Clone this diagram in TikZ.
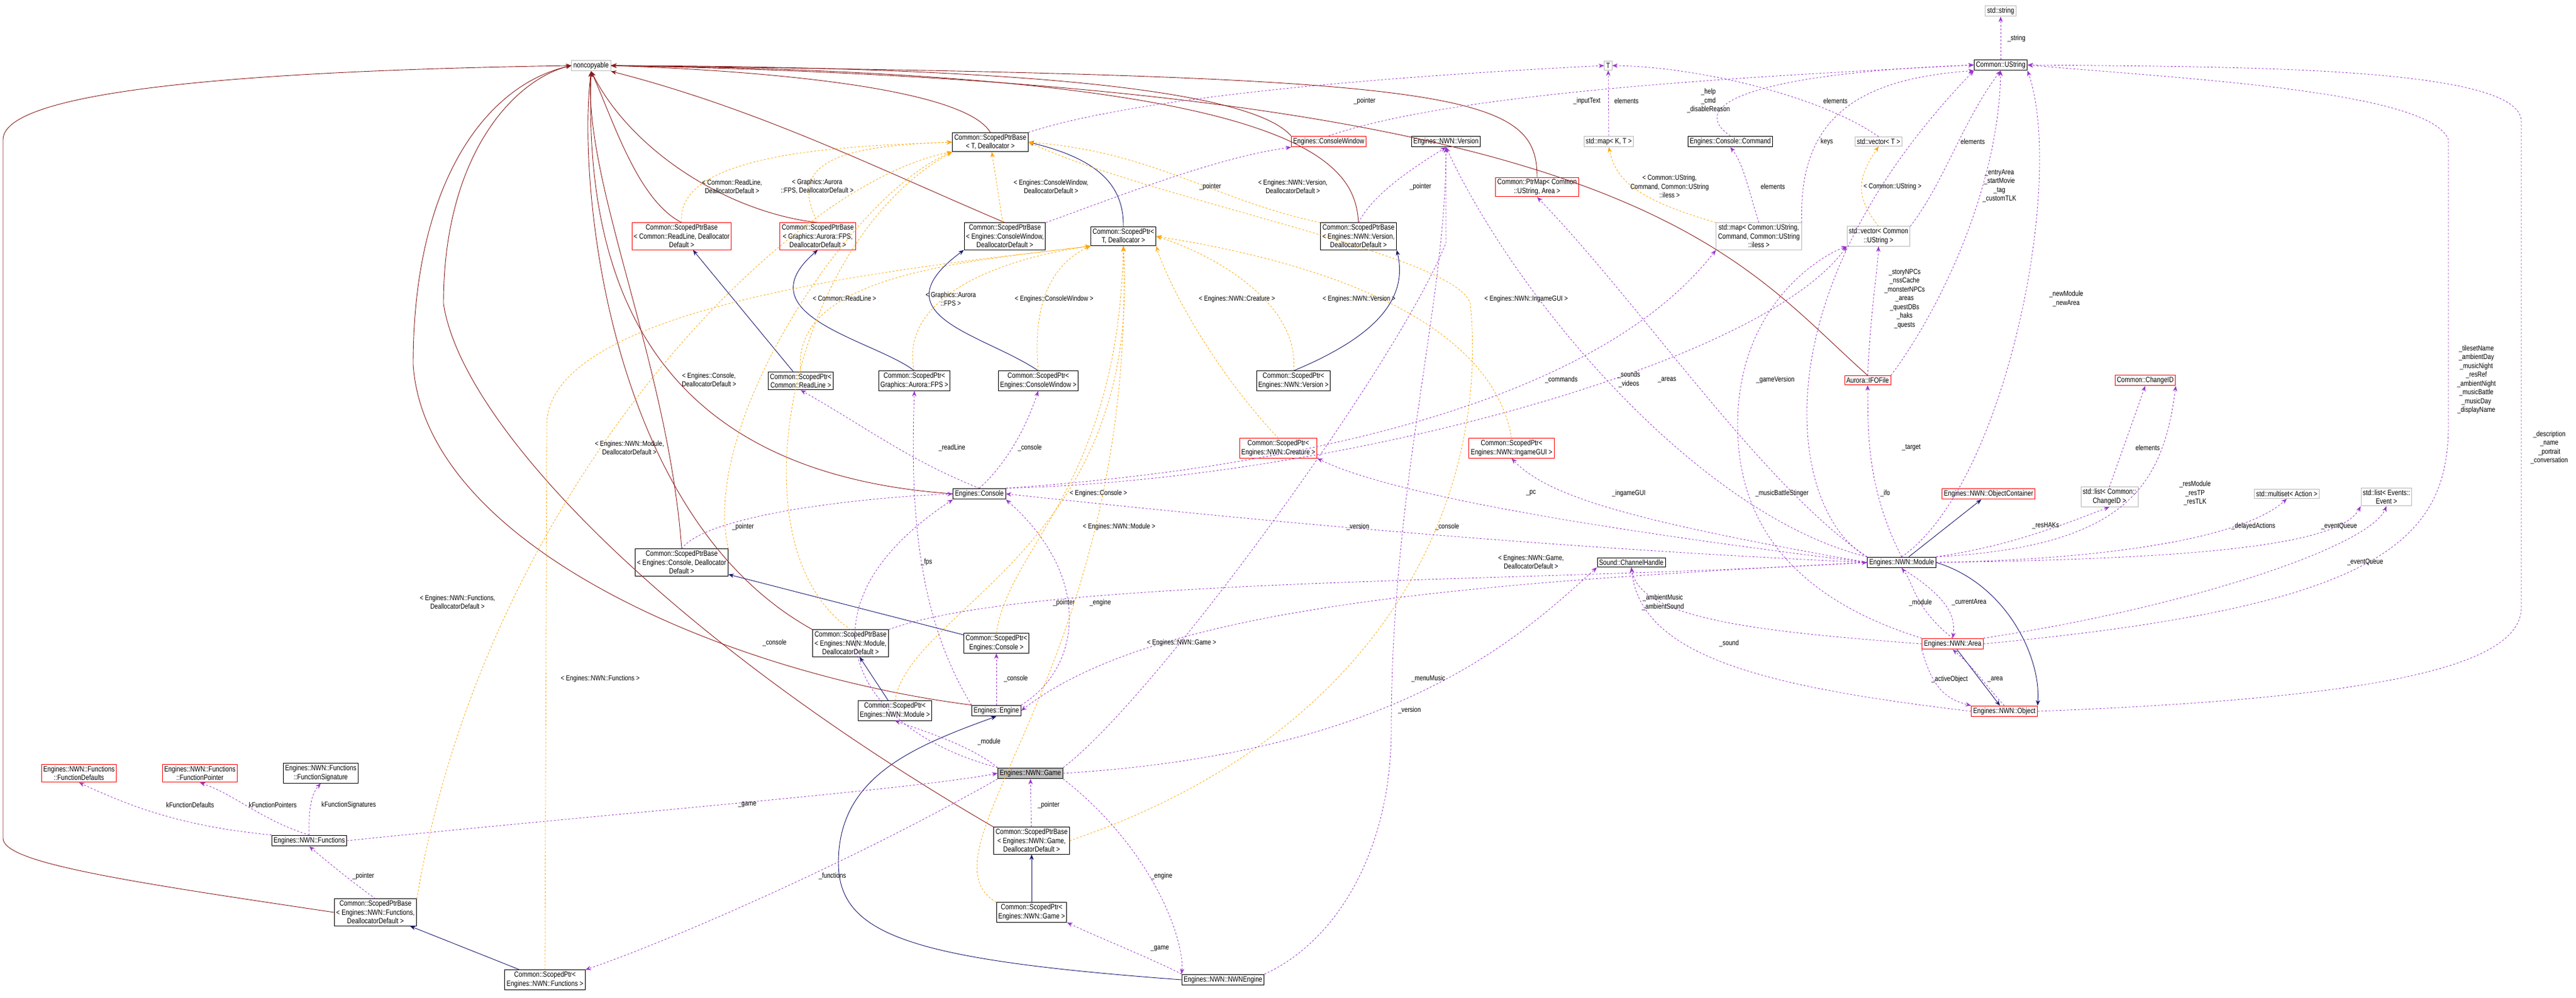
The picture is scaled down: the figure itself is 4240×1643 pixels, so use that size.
\documentclass[tikz,border=0pt]{standalone}
\usepackage{fontspec}
\setmainfont{Liberation Sans}[FakeStretch=0.82]
\usetikzlibrary{arrows.meta}
\definecolor{inhred}{HTML}{8B1A1A}
\definecolor{inhblue}{HTML}{191970}
\definecolor{usep}{HTML}{9A32CD}
\definecolor{tmpl}{HTML}{FFA500}
\tikzset{
 bx/.style={draw=black,line width=1pt,fill=white,align=center,inner sep=3pt,font=\fontsize{12.5}{14.5}\selectfont},
 rbx/.style={bx,draw=red},
 gbx/.style={bx,draw=black!28},
 lbl/.style={align=center,inner sep=1pt,font=\fontsize{12}{14.5}\selectfont},
 tip/.style={-{Stealth[length=9pt,width=7pt]}},
 nce/.style={tip,draw=inhred,line width=0.9pt},
 inh/.style={tip,draw=inhblue,line width=0.9pt},
 tpl/.style={tip,draw=tmpl,dashed,line width=0.8pt},
 use/.style={tip,draw=usep,dashed,line width=0.8pt},
}
\begin{document}
\begin{tikzpicture}[x=1pt,y=-1pt]
\useasboundingbox (0,0) rectangle (4240,1643);
% nodes
\node[gbx] (nc) at (973,108) {noncopyable};
\node[gbx] (T) at (2647,108) {T};
\node[gbx] (sstr) at (3293,18) {std::string};
\node[bx] (ustr) at (3293,107) {Common::UString};
\node[bx] (spbT) at (1630,234) {Common::ScopedPtrBase\\< T, Deallocator >};
\node[rbx] (cw) at (2187,233) {Engines::ConsoleWindow};
\node[bx] (ver) at (2380,233) {Engines::NWN::Version};
\node[gbx] (mapKT) at (2648,233) {std::map< K, T >};
\node[bx] (cmd) at (2848,233) {Engines::Console::Command};
\node[gbx] (vecT) at (3092,233) {std::vector< T >};
\node[rbx] (ptrmap) at (2530,308) {Common::PtrMap< Common\\::UString, Area >};
\node[rbx] (rlB) at (1122,389) {Common::ScopedPtrBase\\< Common::ReadLine, Deallocator\\Default >};
\node[rbx] (fpsB) at (1346,389) {Common::ScopedPtrBase\\< Graphics::Aurora::FPS,\\DeallocatorDefault >};
\node[bx] (cwB) at (1654,389) {Common::ScopedPtrBase\\< Engines::ConsoleWindow,\\DeallocatorDefault >};
\node[bx] (spT) at (1849,389) {Common::ScopedPtr<\\T, Deallocator >};
\node[bx] (verB) at (2236,389) {Common::ScopedPtrBase\\< Engines::NWN::Version,\\DeallocatorDefault >};
\node[gbx] (mapU) at (2895,389) {std::map< Common::UString,\\Command, Common::UString\\::iless >};
\node[gbx] (vecU) at (3092,389) {std::vector< Common\\::UString >};
\node[bx] (rlP) at (1318,627) {Common::ScopedPtr<\\Common::ReadLine >};
\node[bx] (fpsP) at (1505,627) {Common::ScopedPtr<\\Graphics::Aurora::FPS >};
\node[bx] (cwP) at (1709,627) {Common::ScopedPtr<\\Engines::ConsoleWindow >};
\node[bx] (verP) at (2129,627) {Common::ScopedPtr<\\Engines::NWN::Version >};
\node[rbx] (ifo) at (3074,626) {Aurora::IFOFile};
\node[rbx] (chid) at (3531,626) {Common::ChangeID};
\node[rbx] (creP) at (2104,738) {Common::ScopedPtr<\\Engines::NWN::Creature >};
\node[rbx] (guiP) at (2488,738) {Common::ScopedPtr<\\Engines::NWN::IngameGUI >};
\node[bx] (con) at (1612,813) {Engines::Console};
\node[rbx] (objc) at (3273,813) {Engines::NWN::ObjectContainer};
\node[gbx] (lchid) at (3472,818) {std::list< Common::\\ChangeID >};
\node[gbx] (mset) at (3764,813) {std::multiset< Action >};
\node[gbx] (levt) at (3928,818) {std::list< Events::\\Event >};
\node[bx] (conB) at (1122,926) {Common::ScopedPtrBase\\< Engines::Console, Deallocator\\Default >};
\node[bx] (chan) at (2685,926) {Sound::ChannelHandle};
\node[bx] (mod) at (3130,926) {Engines::NWN::Module};
\node[bx] (modB) at (1400,1059) {Common::ScopedPtrBase\\< Engines::NWN::Module,\\DeallocatorDefault >};
\node[bx] (conP) at (1640,1059) {Common::ScopedPtr<\\Engines::Console >};
\node[rbx] (area) at (3214,1060) {Engines::NWN::Area};
\node[bx] (modP) at (1473,1170) {Common::ScopedPtr<\\Engines::NWN::Module >};
\node[bx] (eng) at (1640,1170) {Engines::Engine};
\node[rbx] (obj) at (3299,1171) {Engines::NWN::Object};
\node[bx,fill=black!25] (game) at (1696,1273) {Engines::NWN::Game};
\node[rbx] (fdef) at (130,1273) {Engines::NWN::Functions\\::FunctionDefaults};
\node[rbx] (fptr) at (329,1273) {Engines::NWN::Functions\\::FunctionPointer};
\node[bx] (fsig) at (528,1273) {Engines::NWN::Functions\\::FunctionSignature};
\node[bx] (funcs) at (509,1384) {Engines::NWN::Functions};
\node[bx] (gameB) at (1698,1384) {Common::ScopedPtrBase\\< Engines::NWN::Game,\\DeallocatorDefault >};
\node[bx] (funB) at (618,1502) {Common::ScopedPtrBase\\< Engines::NWN::Functions,\\DeallocatorDefault >};
\node[bx] (gameP) at (1698,1502) {Common::ScopedPtr<\\Engines::NWN::Game >};
\node[bx] (funP) at (897,1613) {Common::ScopedPtr<\\Engines::NWN::Functions >};
\node[bx] (nwne) at (2013,1613) {Engines::NWN::NWNEngine};

% noncopyable inheritance
\begin{scope}[on background layer/.style={}]
\draw[nce] (spbT.north) .. controls (1590,150) and (1300,118) .. (nc.east);
\draw[nce] (rlB.north) .. controls (1050,330) and (1010,200) .. (nc.south);
\draw[nce] (fpsB.north) .. controls (1200,350) and (1040,250) .. (nc.south);
\draw[nce] (cwB.north) .. controls (1450,280) and (1250,180) .. (nc.south east);
\draw[nce] (cw.north west) .. controls (2060,150) and (1700,110) .. (nc.east);
\draw[nce] (verB.north) .. controls (2230,270) and (2160,120) .. (nc.east);
\draw[nce] (ptrmap.north) .. controls (2530,150) and (2400,125) .. (nc.east);
\draw[nce] (ifo.north) .. controls (2850,420) and (2700,140) .. (nc.east);
\draw[nce] (con.west) .. controls (1100,780) and (960,500) .. (nc.south);
\draw[nce] (conB.north) .. controls (1100,600) and (960,300) .. (nc.south);
\draw[nce] (modB.north west) .. controls (1000,850) and (950,300) .. (nc.south);
\draw[nce] (eng.north west) .. controls (1200,1110) and (700,900) .. (680,600) .. controls (680,300) and (800,140) .. (nc.west);
\draw[nce] (gameB.north west) .. controls (1100,1050) and (760,700) .. (730,500) .. controls (730,250) and (850,130) .. (nc.west);
\draw[nce] (funB.west) .. controls (200,1450) and (5,1420) .. (5,1380) -- (5,230) .. controls (5,140) and (500,115) .. (nc.west);
\end{scope}

% blue inheritance
\draw[inh] (rlP) -- (rlB);
\draw[inh] (fpsP.north) .. controls (1440,560) and (1220,520) .. (fpsB.south);
\draw[inh] (cwP.north) .. controls (1620,550) and (1440,520) .. (cwB.south west);
\draw[inh] (spT.north) .. controls (1850,300) and (1800,260) .. (spbT.east);
\draw[inh] (verP.north) .. controls (2250,560) and (2320,500) .. (verB.south east);
\draw[inh] (conP) -- (conB);
\draw[inh] (modP) -- (modB);
\draw[inh] (gameP) -- (gameB);
\draw[inh] (funP) -- (funB);
\draw[inh] (nwne.west) .. controls (1500,1580) and (1380,1540) .. (1380,1420) .. controls (1380,1280) and (1500,1230) .. (eng.south);
\draw[inh] (mod) -- (objc);
\draw[inh] (mod.east) .. controls (3300,960) and (3360,1080) .. (obj.north east);
\draw[inh] (area) -- (obj);

% template instances
\draw[tpl] (rlB.north) .. controls (1110,250) and (1400,240) .. (spbT.west);
\draw[tpl] (fpsB.north) .. controls (1290,260) and (1400,240) .. (spbT.west);
\draw[tpl] (cwB) -- (spbT);
\draw[tpl] (verB.north west) .. controls (2000,330) and (1900,250) .. (spbT.east);
\draw[tpl] (conB.north east) .. controls (1150,700) and (1400,320) .. (spbT.south west);
\draw[tpl] (modB.north) .. controls (1200,900) and (1300,400) .. (spbT.south west);
\draw[tpl] (funB.north east) .. controls (800,800) and (1300,300) .. (spbT.south west);
\draw[tpl] (gameB.east) .. controls (2300,1200) and (2450,800) .. (2420,500) .. controls (2400,420) and (1900,330) .. (spbT.east);
\draw[tpl] (rlP.north) .. controls (1300,450) and (1600,430) .. (spT.south west);
\draw[tpl] (fpsP.north) .. controls (1480,500) and (1620,430) .. (spT.south west);
\draw[tpl] (cwP.north) .. controls (1700,520) and (1720,440) .. (spT.south west);
\draw[tpl] (creP.north) .. controls (1990,600) and (1920,460) .. (spT.south east);
\draw[tpl] (verP.north) .. controls (2140,500) and (2000,420) .. (spT.east);
\draw[tpl] (guiP.north) .. controls (2450,500) and (2100,420) .. (spT.east);
\draw[tpl] (conP.north) .. controls (1660,900) and (1840,800) .. (spT.south);
\draw[tpl] (modP.north) .. controls (1500,1000) and (1880,900) .. (spT.south);
\draw[tpl] (gameP.north west) .. controls (1500,1400) and (1870,1100) .. (spT.south);
\draw[tpl] (funP.north) -- (900,700) .. controls (900,500) and (1500,440) .. (spT.south west);
\draw[tpl] (mapU.north west) .. controls (2700,330) and (2660,300) .. (mapKT.south);
\draw[tpl] (vecU.north) .. controls (3050,320) and (3060,290) .. (vecT.south);

% usage
\draw[use] (spbT.north east) .. controls (1900,150) and (2400,120) .. (T.west);
\draw[use] (cw.north) .. controls (2400,150) and (2900,125) .. (ustr.west);
\draw[use] (cwB.north east) .. controls (1850,320) and (2000,260) .. (cw.south west);
\draw[use] (verB.north) .. controls (2260,320) and (2320,280) .. (ver.south);
\draw[use] (mapKT) -- (T);
\draw[use] (vecT.north) .. controls (3000,160) and (2800,110) .. (T.east);
\draw[use] (cmd.north) .. controls (2770,170) and (2900,120) .. (ustr.west);
\draw[use] (mapU.north) .. controls (2880,320) and (2870,270) .. (cmd.south);
\draw[use] (mapU.north east) .. controls (2960,200) and (3050,130) .. (ustr.south west);
\draw[use] (vecU.north east) .. controls (3200,300) and (3230,200) .. (ustr.south);
\draw[use] (ustr) -- (sstr);
\draw[use] (ifo.north) .. controls (3080,500) and (3090,450) .. (vecU.south);
\draw[use] (ifo.north east) .. controls (3200,500) and (3290,300) .. (ustr.south);
\draw[use] (mod.north) .. controls (3300,800) and (3400,300) .. (ustr.south east);
\draw[use] (area.east) .. controls (3900,1000) and (4030,900) .. (4030,700) -- (4030,230) .. controls (4000,150) and (3600,130) .. (ustr.east);
\draw[use] (obj.east) .. controls (3900,1150) and (4150,1100) .. (4150,1000) -- (4150,200) .. controls (4150,110) and (3700,110) .. (ustr.east);
\draw[use] (mod.north) .. controls (3070,800) and (3075,700) .. (ifo.south);
\draw[use] (mod.north west) .. controls (2900,800) and (2700,500) .. (ptrmap.south);
\draw[use] (mod.north west) .. controls (2800,850) and (2500,500) .. (ver.south);
\draw[use] (mod.west) .. controls (2700,860) and (2550,820) .. (guiP.south);
\draw[use] (mod.west) .. controls (2700,880) and (2300,820) .. (creP.south east);
\draw[use] (mod.west) .. controls (2500,900) and (2000,850) .. (con.east);
\draw[use] (mod.north east) .. controls (3300,900) and (3380,870) .. (lchid.south);
\draw[use] (mod.north east) .. controls (3500,900) and (3560,800) .. (chid.south east);
\draw[use] (lchid.north) -- (chid.south);
\draw[use] (mod.east) .. controls (3500,920) and (3700,880) .. (mset.south);
\draw[use] (mod.east) .. controls (3600,920) and (3850,900) .. (levt.south west);
\draw[use] (area.north east) .. controls (3600,1000) and (3900,900) .. (levt.south);
\draw[use] (area.north) .. controls (3150,1000) and (3150,960) .. (mod.south);
\draw[use] (mod.south) .. controls (3200,980) and (3220,1010) .. (area.north);
\draw[use] (area.south west) .. controls (3180,1130) and (3200,1150) .. (obj.north west);
\draw[use] (obj.north) .. controls (3270,1130) and (3250,1100) .. (area.south);
\draw[use] (area.west) .. controls (2900,1040) and (2700,1020) .. (chan.south);
\draw[use] (obj.west) .. controls (2900,1130) and (2700,1080) .. (chan.south);
\draw[use] (area.north west) .. controls (3000,1000) and (2860,900) .. (2860,700) .. controls (2860,500) and (3000,420) .. (vecU.south west);
\draw[use] (mod.north west) .. controls (2950,850) and (2880,500) .. (ustr.south west);
\draw[use] (con.north east) .. controls (2000,780) and (2600,700) .. (mapU.south west);
\draw[use] (con.north east) .. controls (2200,790) and (2900,600) .. (vecU.south west);
\draw[use] (con.north) .. controls (1500,760) and (1420,700) .. (rlP.south);
\draw[use] (con.north) .. controls (1660,760) and (1690,700) .. (cwP.south);
\draw[use] (eng.north west) .. controls (1500,1000) and (1500,800) .. (fpsP.south);
\draw[use] (eng) -- (conP);
\draw[use] (eng.north east) .. controls (1780,1100) and (1800,950) .. (con.south east);
\draw[use] (conB.north) .. controls (1160,850) and (1400,820) .. (con.west);
\draw[use] (mod.west) .. controls (2400,960) and (1900,1000) .. (eng.east);
\draw[use] (modB.north east) .. controls (1700,950) and (2500,960) .. (mod.west);
\draw[use] (game.north west) .. controls (1600,1230) and (1540,1210) .. (modP.south);
\draw[use] (game.north east) .. controls (1900,1150) and (2300,600) .. (2380,400) -- (ver.south);
\draw[use] (game.north west) .. controls (1400,1200) and (1300,1000) .. (con.south west);
\draw[use] (game.east) .. controls (2300,1240) and (2500,1050) .. (chan.south west);
\draw[use] (game.south east) .. controls (1900,1400) and (1950,1550) .. (nwne.north west);
\draw[use] (nwne.north west) .. controls (1900,1580) and (1800,1540) .. (gameP.south east);
\draw[use] (nwne.north east) .. controls (2200,1550) and (2290,1400) .. (2290,1200) .. controls (2290,800) and (2380,500) .. (ver.south);
\draw[use] (game.south west) .. controls (1400,1420) and (1100,1550) .. (funP.north east);
\draw[use] (funcs.east) .. controls (1000,1340) and (1500,1300) .. (game.west);
\draw[use] (funcs.north west) .. controls (300,1360) and (220,1330) .. (fdef.south);
\draw[use] (funcs.north) .. controls (430,1350) and (390,1310) .. (fptr.south);
\draw[use] (funcs.north) .. controls (508,1340) and (510,1310) .. (fsig.south);
\draw[use] (funB.north) .. controls (590,1460) and (540,1420) .. (funcs.south);
\draw[use] (gameB) -- (game);

% labels
\node[lbl] (l1) at (1205,307) {< Common::ReadLine,\\DeallocatorDefault >};
\node[lbl] (l2) at (1345,307) {< Graphics::Aurora\\::FPS, DeallocatorDefault >};
\node[lbl] (l3) at (1167,625) {< Engines::Console,\\DeallocatorDefault >};
\node[lbl] (l4) at (1036,737) {< Engines::NWN::Module,\\DeallocatorDefault >};
\node[lbl] (l5) at (1390,491) {< Common::ReadLine >};
\node[lbl] (l6) at (2246,166) {\_pointer};
\node[lbl] (l7) at (1730,307) {< Engines::ConsoleWindow,\\DeallocatorDefault >};
\node[lbl] (l8) at (1992,307) {\_pointer};
\node[lbl] (l9) at (2128,307) {< Engines::NWN::Version,\\DeallocatorDefault >};
\node[lbl] (l10) at (2338,307) {\_pointer};
\node[lbl] (l11) at (2612,166) {\_inputText};
\node[lbl] (l12) at (2677,166) {elements};
\node[lbl] (l13) at (1565,492) {< Graphics::Aurora\\::FPS >};
\node[lbl] (l14) at (1735,492) {< Engines::ConsoleWindow >};
\node[lbl] (l15) at (2036,492) {< Engines::NWN::Creature >};
\node[lbl] (l16) at (2237,492) {< Engines::NWN::Version >};
\node[lbl] (l17) at (2512,492) {< Engines::NWN::IngameGUI >};
\node[lbl] (l18) at (2748,307) {< Common::UString,\\Command, Common::UString\\::iless >};
\node[lbl] (l19) at (2570,625) {\_commands};
\node[lbl] (l20) at (2681,625) {\_sounds\\\_videos};
\node[lbl] (l21) at (2744,625) {\_areas};
\node[lbl] (l22) at (1567,737) {\_readLine};
\node[lbl] (l23) at (1695,737) {\_console};
\node[lbl] (l24) at (2520,812) {\_pc};
\node[lbl] (l25) at (2681,812) {\_ingameGUI};
\node[lbl] (l26) at (1808,812) {< Engines::Console >};
\node[lbl] (l27) at (3319,63) {\_string};
\node[lbl] (l28) at (2812,166) {\_help\\\_cmd\\\_disableReason};
\node[lbl] (l29) at (3021,166) {elements};
\node[lbl] (l30) at (3007,233) {keys};
\node[lbl] (l31) at (3247,233) {elements};
\node[lbl] (l32) at (2918,307) {elements};
\node[lbl] (l33) at (3115,307) {< Common::UString >};
\node[lbl] (l34) at (3291,306) {\_entryArea\\\_startMovie\\\_tag\\\_customTLK};
\node[lbl] (l35) at (3135,492) {\_storyNPCs\\\_nssCache\\\_monsterNPCs\\\_areas\\\_questDBs\\\_haks\\\_quests};
\node[lbl] (l36) at (3401,492) {\_newModule\\\_newArea};
\node[lbl] (l37) at (4076,625) {\_tilesetName\\\_ambientDay\\\_musicNight\\\_resRef\\\_ambientNight\\\_musicBattle\\\_musicDay\\\_displayName};
\node[lbl] (l38) at (4196,737) {\_description\\\_name\\\_portrait\\\_conversation};
\node[lbl] (l39) at (2922,625) {\_gameVersion};
\node[lbl] (l40) at (3146,737) {\_target};
\node[lbl] (l41) at (3535,737) {elements};
\node[lbl] (l42) at (2933,812) {\_musicBattleStinger};
\node[lbl] (l43) at (3103,812) {\_ifo};
\node[lbl] (l44) at (3613,812) {\_resModule\\\_resTP\\\_resTLK};
\node[lbl] (l45) at (3367,866) {\_resHAKs};
\node[lbl] (l46) at (3709,866) {\_delayedActions};
\node[lbl] (l47) at (3850,866) {\_eventQueue};
\node[lbl] (l48) at (3893,925) {\_eventQueue};
\node[lbl] (l49) at (3161,992) {\_module};
\node[lbl] (l50) at (3241,992) {\_currentArea};
\node[lbl] (l51) at (2846,1059) {\_sound};
\node[lbl] (l52) at (3209,1118) {\_activeObject};
\node[lbl] (l53) at (3284,1118) {\_area};
\node[lbl] (l54) at (1842,867) {< Engines::NWN::Module >};
\node[lbl] (l55) at (2235,867) {\_version};
\node[lbl] (l56) at (2382,867) {\_console};
\node[lbl] (l57) at (1525,925) {\_fps};
\node[lbl] (l58) at (2520,925) {< Engines::NWN::Game,\\DeallocatorDefault >};
\node[lbl] (l59) at (2737,992) {\_ambientMusic\\\_ambientSound};
\node[lbl] (l60) at (1751,992) {\_pointer};
\node[lbl] (l61) at (1811,992) {\_engine};
\node[lbl] (l62) at (1945,1058) {< Engines::NWN::Game >};
\node[lbl] (l63) at (1672,1117) {\_console};
\node[lbl] (l64) at (2351,1117) {\_menuMusic};
\node[lbl] (l65) at (2320,1169) {\_version};
\node[lbl] (l66) at (1628,1221) {\_module};
\node[lbl] (l67) at (1726,1325) {\_pointer};
\node[lbl] (l68) at (1912,1442) {\_engine};
\node[lbl] (l69) at (1909,1561) {\_game};
\node[lbl] (l70) at (1223,867) {\_pointer};
\node[lbl] (l71) at (753,991) {< Engines::NWN::Functions,\\DeallocatorDefault >};
\node[lbl] (l72) at (1275,1058) {\_console};
\node[lbl] (l73) at (988,1117) {< Engines::NWN::Functions >};
\node[lbl] (l74) at (313,1325) {kFunctionDefaults};
\node[lbl] (l75) at (449,1325) {kFunctionPointers};
\node[lbl] (l76) at (574,1325) {kFunctionSignatures};
\node[lbl] (l77) at (1230,1325) {\_game};
\node[lbl] (l78) at (598,1442) {\_pointer};
\node[lbl] (l79) at (1370,1442) {\_functions};
\end{tikzpicture}
\end{document}
